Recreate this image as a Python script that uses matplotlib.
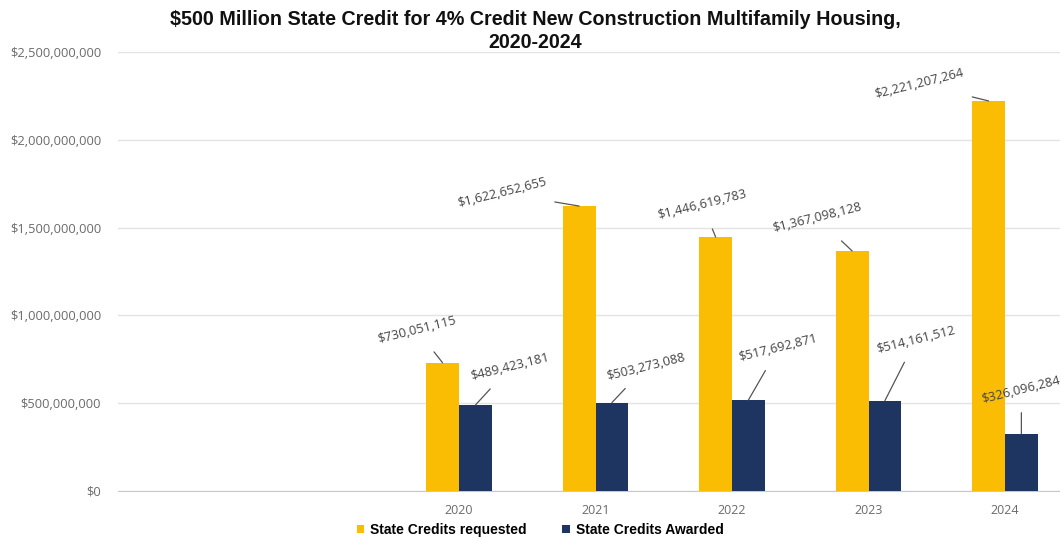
import matplotlib
matplotlib.use("Agg")
import matplotlib.pyplot as plt
import numpy as np
from matplotlib.ticker import FuncFormatter

years = ["2020", "2021", "2022", "2023", "2024"]
requested = [730051115, 1622652655, 1446619783, 1367098128, 2221207264]
awarded = [489423181, 503273088, 517692871, 514161512, 326096284]
req_labels = ["$730,051,115", "$1,622,652,655", "$1,446,619,783", "$1,367,098,128", "$2,221,207,264"]
awd_labels = ["$489,423,181", "$503,273,088", "$517,692,871", "$514,161,512", "$326,096,284"]
yticks = [0, 500000000, 1000000000, 1500000000, 2000000000, 2500000000]

# label offsets in pixels (text centre relative to bar top)
req_off = [(-26, 33), (-77, 13), (-13, 32), (-35, 33), (-69, 17)]
awd_off = [(35, 38), (34, 36), (30, 52), (31, 61), (0, 44)]

YELLOW = "#FBBC04"
NAVY = "#1E3461"

fig = plt.figure(figsize=(10.60, 5.39), dpi=100)
left = 117.75 / 1060
width = 955.5 / 1060
bottom = 1 - 491 / 539
height = (491 - 52) / 539
ax = fig.add_axes([left, bottom, width, height])

x = np.arange(len(years)) + 2
bw = 0.24
b1 = ax.bar(x - bw / 2, requested, bw, color=YELLOW, label="State Credits requested", zorder=3)
b2 = ax.bar(x + bw / 2, awarded, bw, color=NAVY, label="State Credits Awarded", zorder=3)

ax.set_xlim(-0.5, 6.5)
ax.set_ylim(0, 2500000000)
ax.set_yticks(yticks)
ax.yaxis.set_major_formatter(FuncFormatter(lambda v, p: "${:,.0f}".format(v)))
ax.set_xticks(x)
ax.set_xticklabels(years)
ax.grid(axis="y", color="#e3e3e3", lw=1, zorder=0)
for s in ["top", "right", "left"]:
    ax.spines[s].set_visible(False)
ax.spines["bottom"].set_color("#c8c8c8")
ax.tick_params(axis="y", length=0, colors="#6b6b6b", labelsize=9.3, pad=12)
ax.tick_params(axis="x", length=0, colors="#6b6b6b", labelsize=9, pad=9)
for t in ax.get_xticklabels() + ax.get_yticklabels():
    t.set_fontfamily("Open Sans")

def label(xc, val, txt, off):
    ax.annotate(txt, xy=(xc, val), xytext=off, textcoords="offset pixels",
                ha="center", va="center", rotation=14, fontsize=9.3,
                family="Open Sans", color="#444444",
                arrowprops=dict(arrowstyle="-", color="#555555", lw=0.9,
                                shrinkA=3, shrinkB=0), zorder=4)

for i in range(len(years)):
    label(x[i] - bw / 2, requested[i], req_labels[i], req_off[i])
    label(x[i] + bw / 2, awarded[i], awd_labels[i], awd_off[i])

fig.text(535 / 1060, 1 - 31 / 539,
         "$500 Million State Credit for 4% Credit New Construction Multifamily Housing,\n2020-2024",
         ha="center", va="center", fontsize=14.2, fontweight="bold",
         family="Liberation Sans", color="#111111", linespacing=1.25)

fig.legend(handles=[b1, b2], loc="center", bbox_to_anchor=(540 / 1060, 1 - 530 / 539),
           ncol=2, frameon=False, handlelength=0.55, handleheight=0.55,
           handletextpad=0.4, columnspacing=2.6,
           prop=dict(family="Liberation Sans", weight="bold", size=10))

fig.savefig("out.png", dpi=100)
